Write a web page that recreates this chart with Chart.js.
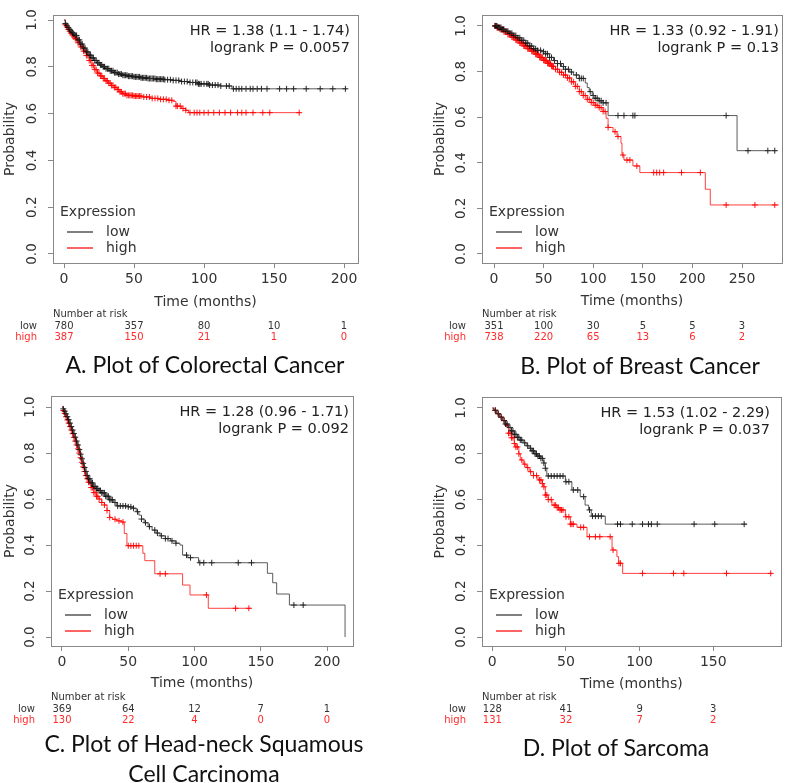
<!DOCTYPE html>
<html>
<head>
<meta charset="utf-8">
<script src="https://cdn.jsdelivr.net/npm/chart.js@4.4.1/dist/chart.umd.min.js"></script>
<style>
  html, body { margin: 0; padding: 0; background: #fff; }
  body { width: 789px; height: 783px; position: relative; overflow: hidden; }
  canvas { position: absolute; }
  .caption { position: absolute; width: 400px; text-align: center; font-family: Lato, sans-serif;
             font-size: 23px; line-height: 30px; color: #111; }
</style>
</head>
<body>
<canvas id="cA"></canvas>
<canvas id="cB"></canvas>
<canvas id="cC"></canvas>
<canvas id="cD"></canvas>
<div class="caption" style="left:5px;top:349px">A. Plot of Colorectal Cancer</div>
<div class="caption" style="left:440px;top:350px">B. Plot of Breast Cancer</div>
<div class="caption" style="left:4px;top:728px">C. Plot of Head-neck Squamous<br>Cell Carcinoma</div>
<div class="caption" style="left:416px;top:732px">D. Plot of Sarcoma</div>
<script>
Chart.defaults.font.family = 'DejaVu Sans';

const probTicks = [0, 0.2, 0.4, 0.6, 0.8, 1.0];

// A. Colorectal
const timeTicksA = [0, 50, 100, 150, 200];
const lowTimeA = [0, 1, 2, 3, 4, 5, 6, 7, 8, 10, 12, 14, 16, 18, 20, 22, 24, 26, 28, 30, 33, 36, 39, 42, 46, 50, 55, 60, 66, 72, 78, 84, 90, 96, 104, 112, 120, 202];
const lowProbA = [1.0, 0.985, 0.977, 0.968, 0.96, 0.953, 0.946, 0.94, 0.934, 0.915, 0.897, 0.88, 0.864, 0.85, 0.838, 0.827, 0.817, 0.808, 0.8, 0.792, 0.783, 0.775, 0.769, 0.764, 0.76, 0.757, 0.753, 0.75, 0.747, 0.745, 0.742, 0.737, 0.733, 0.727, 0.722, 0.718, 0.706, 0.706];
const highTimeA = [0, 1, 2, 3, 4, 5, 6, 7, 8, 10, 12, 14, 16, 18, 20, 22, 24, 26, 28, 30, 32, 34, 36, 38, 40, 42, 45, 50, 56, 62, 68, 74, 78, 80, 84, 87, 89, 169];
const highProbA = [1.0, 0.98, 0.97, 0.96, 0.952, 0.944, 0.936, 0.928, 0.92, 0.903, 0.885, 0.867, 0.848, 0.827, 0.806, 0.788, 0.773, 0.761, 0.75, 0.74, 0.73, 0.72, 0.712, 0.703, 0.693, 0.685, 0.678, 0.675, 0.671, 0.665, 0.661, 0.657, 0.652, 0.632, 0.622, 0.614, 0.604, 0.604];
const lowCensorA = [1, 2, 3, 4, 5, 6, 7, 8, 9, 10, 11, 12, 13, 14, 15, 16, 17, 18, 19, 20, 21, 22, 23, 24, 25, 26, 27, 28, 29, 30, 31, 32, 33, 34, 35, 36, 37, 38, 39, 40, 41, 42, 43, 44, 45, 46, 47, 48, 49, 50, 51, 52, 53, 54, 55, 56, 57, 58, 59, 60, 61, 62, 63, 64, 65, 66, 67, 68, 69, 70, 71, 72, 74, 76, 78, 80, 82, 84, 86, 88, 90, 92, 94, 95, 96, 97, 98, 100, 102, 103, 104, 106, 108, 110, 112, 116, 118, 121, 123, 125, 127, 130, 133, 135, 138, 141, 145, 154, 159, 164, 173, 183, 192, 201];
const highCensorA = [1, 2, 3, 4, 5, 6, 7, 8, 9, 10, 11, 12, 13, 14, 15, 16, 17, 18, 19, 20, 21, 22, 23, 24, 25, 26, 27, 28, 29, 30, 31, 32, 33, 34, 35, 36, 37, 38, 39, 40, 41, 42, 43, 44, 45, 46, 47, 48, 49, 50, 51, 52, 53, 54, 55, 57, 59, 61, 63, 65, 67, 69, 71, 73, 75, 77, 80, 81, 83, 85, 87, 90, 93, 95, 97, 100, 103, 107, 111, 115, 119, 124, 127, 130, 135, 142, 147, 168];
const riskLowA = [780, 357, 80, 10, 1];
const riskHighA = [387, 150, 21, 1, 0];
const statsA = ['HR = 1.38 (1.1 - 1.74)', 'logrank P = 0.0057'];

// B. Breast
const timeTicksB = [0, 50, 100, 150, 200, 250];
const lowTimeB = [0, 4, 8, 12, 16, 20, 24, 28, 32, 36, 40, 44, 48, 52, 56, 60, 64, 68, 72, 76, 80, 86, 92, 94, 96, 99, 102, 106, 110, 115, 245, 285];
const lowProbB = [1.0, 0.993, 0.985, 0.977, 0.968, 0.958, 0.948, 0.937, 0.925, 0.912, 0.9, 0.893, 0.887, 0.878, 0.862, 0.848, 0.835, 0.822, 0.81, 0.798, 0.785, 0.77, 0.75, 0.73, 0.712, 0.695, 0.683, 0.672, 0.663, 0.607, 0.453, 0.453];
const highTimeB = [0, 3, 6, 10, 14, 18, 22, 26, 30, 34, 38, 42, 46, 50, 54, 58, 62, 66, 70, 74, 78, 82, 86, 90, 94, 98, 102, 106, 110, 113, 115, 120, 124, 128, 129, 131, 140, 147, 213, 218, 287];
const highProbB = [1.0, 0.993, 0.985, 0.975, 0.963, 0.951, 0.938, 0.925, 0.912, 0.9, 0.889, 0.876, 0.862, 0.849, 0.836, 0.823, 0.81, 0.797, 0.785, 0.772, 0.755, 0.735, 0.712, 0.695, 0.678, 0.664, 0.652, 0.642, 0.625, 0.595, 0.555, 0.536, 0.515, 0.486, 0.434, 0.412, 0.386, 0.357, 0.284, 0.215, 0.215];
const lowCensorB = [1, 2, 3, 4, 5, 6, 7, 8, 9, 10, 12, 14, 16, 18, 20, 22, 24, 26, 28, 30, 32, 34, 36, 38, 40, 42, 44, 47, 50, 52, 54, 56, 58, 61, 64, 67, 70, 72, 75, 78, 83, 86, 88, 90, 97, 100, 102, 104, 106, 108, 110, 113, 125, 131, 140, 142, 234, 256, 276, 283];
const highCensorB = [1, 2, 3, 4, 5, 6, 7, 8, 9, 10, 11, 12, 13, 14, 15, 16, 17, 18, 19, 20, 21, 22, 23, 24, 25, 26, 27, 28, 29, 30, 31, 32, 33, 34, 35, 36, 37, 38, 39, 40, 41, 42, 43, 44, 45, 46, 47, 48, 49, 50, 51, 52, 53, 54, 55, 56, 57, 58, 59, 60, 62, 64, 66, 68, 70, 72, 74, 76, 78, 80, 82, 84, 86, 88, 90, 92, 94, 96, 98, 100, 102, 104, 106, 108, 110, 112, 115, 122, 125, 130, 134, 137, 144, 161, 164, 167, 171, 189, 208, 234, 263, 283];
const riskLowB = [351, 100, 30, 5, 5, 3];
const riskHighB = [738, 220, 65, 13, 6, 2];
const statsB = ['HR = 1.33 (0.92 - 1.91)', 'logrank P = 0.13'];

// C. Head-neck squamous cell carcinoma
const timeTicksC = [0, 50, 100, 150, 200];
const lowTimeC = [0, 1, 2, 3, 4, 5, 6, 7, 8, 9, 10, 11, 12, 13, 14, 15, 16, 17, 18, 19, 20, 22, 24, 26, 28, 30, 33, 36, 39, 41, 50, 53, 56, 58, 60, 62, 65, 68, 71, 74, 78, 82, 86, 89, 91, 95, 103, 155, 159, 162, 171.6, 213.6];
const lowProbC = [1.0, 0.992, 0.982, 0.97, 0.958, 0.945, 0.93, 0.915, 0.9, 0.885, 0.869, 0.852, 0.835, 0.815, 0.795, 0.775, 0.755, 0.737, 0.72, 0.703, 0.688, 0.67, 0.655, 0.645, 0.637, 0.627, 0.612, 0.597, 0.585, 0.57, 0.566, 0.56, 0.545, 0.53, 0.513, 0.497, 0.48, 0.465, 0.452, 0.44, 0.428, 0.418, 0.408, 0.4, 0.356, 0.345, 0.323, 0.277, 0.236, 0.187, 0.139, 0];
const highTimeC = [0, 1, 2, 3, 4, 5, 6, 7, 8, 9, 10, 11, 12, 13, 14, 15, 16, 17, 18, 19, 20, 22, 24, 26, 28, 30, 32, 34, 36, 38, 41, 45, 47, 49, 61, 62.5, 70, 91, 96.6, 110.4, 143];
const highProbC = [1.0, 0.985, 0.972, 0.958, 0.944, 0.93, 0.915, 0.9, 0.884, 0.868, 0.852, 0.835, 0.818, 0.8, 0.78, 0.76, 0.74, 0.72, 0.702, 0.688, 0.673, 0.65, 0.628, 0.612, 0.6, 0.585, 0.574, 0.55, 0.52, 0.512, 0.505, 0.5, 0.45, 0.397, 0.364, 0.332, 0.275, 0.226, 0.183, 0.125, 0.125];
const lowCensorC = [1, 2, 3, 4, 5, 6, 7, 8, 9, 10, 11, 12, 13, 14, 15, 16, 17, 18, 19, 20, 21, 22, 23, 24, 25, 26, 27, 28, 29, 30, 31, 32, 33, 34, 35, 36, 37, 38, 40, 42, 44, 46, 48, 50, 52, 54, 57, 60, 63, 66, 70, 72, 75, 78, 80, 83, 86, 94, 97, 104, 107, 113, 133, 143, 175, 182];
const highCensorC = [1, 2, 3, 4, 5, 6, 7, 8, 9, 10, 11, 12, 13, 14, 15, 16, 17, 18, 19, 20, 21, 22, 23, 24, 25, 26, 27, 28, 30, 32, 34, 36, 40, 43, 46, 50, 52, 54, 56, 58, 74, 78, 109, 131, 141];
const riskLowC = [369, 64, 12, 7, 1];
const riskHighC = [130, 22, 4, 0, 0];
const statsC = ['HR = 1.28 (0.96 - 1.71)', 'logrank P = 0.092'];

// D. Sarcoma
const timeTicksD = [0, 50, 100, 150];
const lowTimeD = [0, 1, 3, 5, 7, 9, 11, 13, 15, 17, 19, 21, 23, 25, 27, 29, 31, 33, 35, 36, 37, 49.6, 54, 59.7, 63, 65.4, 67.2, 76.7, 173];
const lowProbD = [1.0, 0.99, 0.975, 0.96, 0.945, 0.93, 0.915, 0.9, 0.885, 0.872, 0.86, 0.848, 0.835, 0.824, 0.813, 0.8, 0.79, 0.78, 0.76, 0.737, 0.703, 0.678, 0.642, 0.613, 0.576, 0.555, 0.528, 0.493, 0.493];
const highTimeD = [0, 1, 3, 5, 7, 9, 11, 13, 15, 16, 18, 19, 21, 23, 25, 28, 31, 34, 35, 36, 38, 40.5, 44, 46, 49.6, 53, 57.5, 64.3, 81.3, 84.6, 85.7, 88.5, 190];
const highProbD = [1.0, 0.99, 0.975, 0.96, 0.945, 0.925, 0.89, 0.87, 0.845, 0.83, 0.8, 0.773, 0.755, 0.74, 0.722, 0.705, 0.686, 0.67, 0.656, 0.62, 0.6, 0.576, 0.565, 0.555, 0.525, 0.493, 0.479, 0.438, 0.38, 0.351, 0.322, 0.278, 0.278];
const lowCensorD = [2, 4, 6, 8, 9, 10, 12, 13, 14, 15, 16, 17, 18, 19, 20, 22, 24, 26, 27, 28, 29, 30, 31, 32, 33, 34, 35, 36, 38, 40, 42, 44, 46, 48, 50, 52, 55, 58, 62, 66, 68, 70, 72, 74, 85, 87, 95, 102, 106, 108, 112, 137, 151, 171];
const highCensorD = [2, 4, 6, 8, 10, 11, 12, 13, 14, 15, 16, 17, 18, 20, 22, 24, 26, 28, 30, 32, 33, 34, 35, 36, 37, 38, 40, 42, 43, 44, 45, 46, 47, 48, 50, 52, 53, 54, 55, 60, 62, 66, 70, 73, 80, 82, 86, 87, 102, 123, 130, 159, 189];
const riskLowD = [128, 41, 9, 3];
const riskHighD = [131, 32, 7, 2];
const statsD = ['HR = 1.53 (1.02 - 2.29)', 'logrank P = 0.037'];

const LOW_LINE = 'rgba(50,50,50,0.8)';
const HIGH_LINE = 'rgba(255,0,0,0.75)';

// value of the step curve at time t (censor marks sit on the curve)
function survAt(times, probs, t) {
    let p = probs[0];
    for (let i = 0; i < times.length; i++) {
        if (times[i] <= t) p = probs[i];
        else break;
    }
    return p;
}

function decor(p) {
    return {
        id: 'kmDecor',
        afterDraw(chart) {
            const ctx = chart.ctx;
            const a = chart.chartArea;
            const xs = chart.scales.x, ys = chart.scales.y;
            ctx.save();
            // plot box
            ctx.strokeStyle = '#888';
            ctx.lineWidth = 1;
            ctx.strokeRect(Math.round(a.left) + 0.5, Math.round(a.top) + 0.5,
                Math.round(a.right - a.left), Math.round(a.bottom - a.top));

            // y tick labels, rotated like R
            ctx.fillStyle = '#333';
            ctx.font = '13.5px "DejaVu Sans"';
            ctx.textAlign = 'center';
            ctx.textBaseline = 'middle';
            probTicks.forEach(v => {
                ctx.save();
                ctx.translate(a.left - 21, ys.getPixelForValue(v));
                ctx.rotate(-Math.PI / 2);
                ctx.fillText(v.toFixed(1), 0, 0);
                ctx.restore();
            });

            // HR and logrank
            ctx.font = '14.5px "DejaVu Sans"';
            ctx.textAlign = 'right';
            ctx.fillStyle = '#222';
            ctx.fillText(p.stats[0], a.right - p.statsInset, a.top + 16);
            ctx.fillText(p.stats[1], a.right - p.statsInset, a.top + 33);

            // legend
            ctx.font = '14px "DejaVu Sans"';
            ctx.textAlign = 'left';
            ctx.fillStyle = '#333';
            ctx.fillText('Expression', a.left + 7, a.bottom - 51);
            ctx.fillText('low', a.left + 53, a.bottom - 31);
            ctx.fillText('high', a.left + 53, a.bottom - 15);
            ctx.lineWidth = 1.5;
            ctx.strokeStyle = '#555555';
            ctx.beginPath();
            ctx.moveTo(a.left + 14, a.bottom - 31);
            ctx.lineTo(a.left + 40, a.bottom - 31);
            ctx.stroke();
            ctx.strokeStyle = '#ff3030';
            ctx.beginPath();
            ctx.moveTo(a.left + 14, a.bottom - 15);
            ctx.lineTo(a.left + 40, a.bottom - 15);
            ctx.stroke();

            // number at risk table
            ctx.font = '10px "DejaVu Sans"';
            ctx.fillStyle = '#333';
            ctx.fillText('Number at risk', a.left, a.bottom + 51.5);
            ctx.textAlign = 'right';
            ctx.fillText('low', a.left - 16, a.bottom + 63);
            ctx.fillStyle = '#ff2a2a';
            ctx.fillText('high', a.left - 16, a.bottom + 74.5);
            ctx.textAlign = 'center';
            p.ticks.forEach((t, i) => {
                const x = xs.getPixelForValue(t);
                ctx.fillStyle = '#333';
                ctx.fillText(String(p.riskLow[i]), x, a.bottom + 63);
                ctx.fillStyle = '#ff2a2a';
                ctx.fillText(String(p.riskHigh[i]), x, a.bottom + 74.5);
            });
            ctx.restore();
        }
    };
}

function drawPanel(p) {
    const cv = document.getElementById(p.id);
    cv.width = p.w;
    cv.height = p.h;
    cv.style.left = p.left + 'px';
    cv.style.top = p.top + 'px';

    const pts = (ts, ps) => ts.map((t, i) => ({x: t, y: ps[i]}));
    const marks = (cs, ts, ps) => cs.map(t => ({x: t, y: survAt(ts, ps, t)}));

    const grid = { display: true, drawOnChartArea: false, drawTicks: true, tickLength: 5, color: '#888' };

    new Chart(cv, {
        type: 'scatter',
        data: {
            datasets: [
                { data: pts(p.lowT, p.lowP), showLine: true, stepped: true, borderColor: LOW_LINE,
                  borderWidth: 1, pointRadius: 0, fill: false },
                { data: marks(p.lowC, p.lowT, p.lowP), showLine: false, pointStyle: 'cross', pointRadius: 3,
                  borderColor: 'rgba(0,0,0,0.85)', backgroundColor: 'rgba(0,0,0,0.85)', borderWidth: 1 },
                { data: pts(p.highT, p.highP), showLine: true, stepped: true, borderColor: HIGH_LINE,
                  borderWidth: 1, pointRadius: 0, fill: false },
                { data: marks(p.highC, p.highT, p.highP), showLine: false, pointStyle: 'cross', pointRadius: 3,
                  borderColor: 'rgba(255,0,0,0.9)', backgroundColor: 'rgba(255,0,0,0.9)', borderWidth: 1 }
            ]
        },
        options: {
            responsive: false,
            animation: false,
            events: [],
            layout: { padding: { left: 0, top: p.box.t - p.top, right: p.left + p.w - p.box.r, bottom: 0 } },
            plugins: { legend: { display: false }, tooltip: { enabled: false } },
            scales: {
                x: {
                    type: 'linear', min: p.xMin, max: p.xMax,
                    afterBuildTicks: s => { s.ticks = p.ticks.map(v => ({ value: v })); },
                    afterFit: s => { s.height = p.top + p.h - p.box.b; },
                    grid: grid,
                    border: { display: false },
                    ticks: { color: '#333', font: { size: 14 }, padding: 3, maxRotation: 0, autoSkip: false },
                    title: { display: true, text: 'Time (months)', color: '#333', font: { size: 14 },
                             padding: { top: 0, bottom: p.top + p.h - p.titleY - 8.4 } }
                },
                y: {
                    type: 'linear', min: p.yMin, max: p.yMax,
                    afterBuildTicks: s => { s.ticks = probTicks.map(v => ({ value: v })); },
                    afterFit: s => { s.width = p.box.l - p.left; },
                    grid: grid,
                    border: { display: false },
                    ticks: { display: false },
                    title: { display: true, text: 'Probability', color: '#333', font: { size: 14 },
                             padding: { top: 2, bottom: 0 } }
                }
            }
        },
        plugins: [decor(p)]
    });
}

const panels = [
    { id: 'cA', left: 0, top: 0, w: 395, h: 345, box: { l: 53, t: 15, r: 358, b: 263 },
      xMin: -7.86, xMax: 210, yMin: -0.0385, yMax: 1.0214, titleY: 302, statsInset: 8,
      ticks: timeTicksA, lowT: lowTimeA, lowP: lowProbA, highT: highTimeA, highP: highProbA,
      lowC: lowCensorA, highC: highCensorA, riskLow: riskLowA, riskHigh: riskHighA, stats: statsA },
    { id: 'cB', left: 430, top: 0, w: 359, h: 345, box: { l: 482, t: 15, r: 782, b: 263 },
      xMin: -12.1, xMax: 290.3, yMin: -0.0395, yMax: 1.048, titleY: 301, statsInset: 3,
      ticks: timeTicksB, lowT: lowTimeB, lowP: lowProbB, highT: highTimeB, highP: highProbB,
      lowC: lowCensorB, highC: highCensorB, riskLow: riskLowB, riskHigh: riskHighB, stats: statsB },
    { id: 'cC', left: 0, top: 375, w: 395, h: 355, box: { l: 51, t: 396, r: 353, b: 646 },
      xMin: -8.3, xMax: 219.6, yMin: -0.039, yMax: 1.048, titleY: 683, statsInset: 4,
      ticks: timeTicksC, lowT: lowTimeC, lowP: lowProbC, highT: highTimeC, highP: highProbC,
      lowC: lowCensorC, highC: highCensorC, riskLow: riskLowC, riskHigh: riskHighC, stats: statsC },
    { id: 'cD', left: 430, top: 375, w: 359, h: 355, box: { l: 482, t: 397, r: 781, b: 646 },
      xMin: -7.0, xMax: 196.0, yMin: -0.039, yMax: 1.048, titleY: 684, statsInset: 11,
      ticks: timeTicksD, lowT: lowTimeD, lowP: lowProbD, highT: highTimeD, highP: highProbD,
      lowC: lowCensorD, highC: highCensorD, riskLow: riskLowD, riskHigh: riskHighD, stats: statsD }
];

panels.forEach(drawPanel);
</script>
</body>
</html>
